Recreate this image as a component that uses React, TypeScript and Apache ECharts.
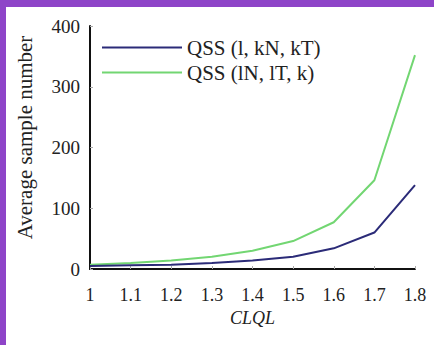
import React, { useEffect, useRef } from "react";
import * as echarts from "echarts";

const categories = ["1", "1.1", "1.2", "1.3", "1.4", "1.5", "1.6", "1.7", "1.8"];
const seriesNames = ["QSS (l, kN, kT)", "QSS (lN, lT, k)"];
const blueValues = [5, 6, 7, 10, 14, 20, 34, 60, 138];
const greenValues = [7, 10, 14, 20, 30, 46, 77, 146, 352];
const yTicks = [0, 100, 200, 300, 400];

const FONT = "'Liberation Serif', 'Times New Roman', serif";

export default function App() {
  const ref = useRef<HTMLDivElement>(null);
  useEffect(() => {
    if (!ref.current) return;
    const chart = echarts.init(ref.current, undefined, { renderer: "svg" });
    chart.setOption({
      animation: false,
      backgroundColor: "#ffffff",
      textStyle: { fontFamily: FONT },
      grid: { left: 81, right: 19, top: 19, bottom: 76, containLabel: false },
      legend: {
        orient: "vertical",
        left: 96,
        top: 30,
        padding: 0,
        icon: "rect",
        itemWidth: 80,
        itemHeight: 2,
        itemGap: 4,
        itemTextGap: 3,
        textStyle: { fontFamily: FONT, fontSize: 21, lineHeight: 21, color: "#222" },
        data: seriesNames,
      },
      xAxis: {
        type: "category",
        data: categories,
        boundaryGap: false,
        name: "CLQL",
        nameLocation: "middle",
        nameGap: 38,
        nameTextStyle: { fontFamily: FONT, fontSize: 18, fontStyle: "italic", color: "#222" },
        axisLine: { lineStyle: { color: "#111", width: 2 } },
        axisTick: { show: true, inside: true, length: 3, lineStyle: { color: "#aaa" } },
        axisLabel: { fontFamily: FONT, fontSize: 18, color: "#222", margin: 17 },
        splitLine: { show: false },
      },
      yAxis: {
        type: "value",
        min: yTicks[0],
        max: yTicks[yTicks.length - 1],
        interval: 100,
        name: "Average sample number",
        nameLocation: "middle",
        nameGap: 55,
        nameRotate: 90,
        nameTextStyle: { fontFamily: FONT, fontSize: 21, color: "#222", padding: [0, 0, 0, 20] },
        axisLine: { show: true, lineStyle: { color: "#111", width: 2 } },
        axisTick: { show: true, inside: true, length: 3, lineStyle: { color: "#aaa" } },
        axisLabel: { fontFamily: FONT, fontSize: 19, color: "#222", margin: 10 },
        splitLine: { show: false },
      },
      series: [
        {
          name: seriesNames[0],
          type: "line",
          data: blueValues,
          symbol: "none",
          lineStyle: { color: "#2b2b78", width: 2 },
          itemStyle: { color: "#2b2b78" },
          z: 3,
        },
        {
          name: seriesNames[1],
          type: "line",
          data: greenValues,
          symbol: "none",
          lineStyle: { color: "#72d672", width: 2 },
          itemStyle: { color: "#72d672" },
          z: 2,
        },
      ],
    });
    return () => chart.dispose();
  }, []);
  return (
    <div
      style={{
        position: "fixed",
        left: 0,
        top: 0,
        width: 434,
        height: 345,
        background: "#8e44c8",
      }}
    >
      <div
        ref={ref}
        style={{ position: "absolute", left: 6, top: 7, width: 428, height: 338, background: "#fff" }}
      />
    </div>
  );
}
